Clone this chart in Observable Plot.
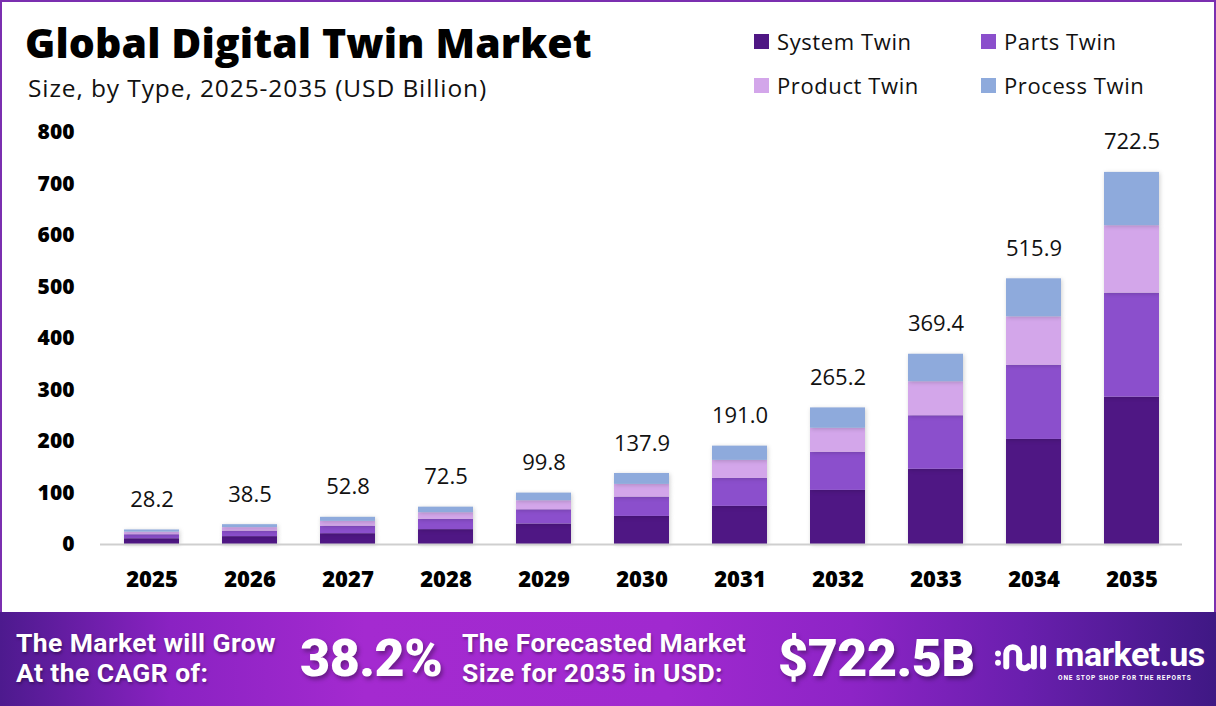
<!DOCTYPE html>
<html>
<head>
<meta charset="utf-8">
<script src="https://cdn.jsdelivr.net/npm/d3@7"></script>
<script src="https://cdn.jsdelivr.net/npm/@observablehq/plot@0.6"></script>
<style>
  html, body { margin: 0; padding: 0; background: #fff; }
  body { width: 1216px; height: 706px; overflow: hidden; font-family: "Open Sans", "Noto Sans", sans-serif; }
  #frame { position: relative; width: 1216px; height: 706px; box-sizing: border-box; border: 2px solid #7b2fb0; border-bottom: none; }
  #header { position: relative; height: 108px; }
  #title { position: absolute; left: 23px; top: 12px; font-family: "Open Sans", sans-serif; font-weight: 800; font-size: 41px; letter-spacing: 0.1px; color: #000; }
  #subtitle { position: absolute; left: 26px; top: 69px; font-family: "Open Sans", sans-serif; font-size: 24.5px; letter-spacing: 0.9px; color: #111; }
  .leg { position: absolute; display: flex; align-items: center; font-family: "Open Sans", sans-serif; font-size: 22px; letter-spacing: 0.6px; color: #111; }
  .leg span.sw { display: inline-block; width: 15px; height: 15px; margin-right: 8px; }
  #chart { position: relative; height: 502px; }
  #chart svg g[aria-label="bar"] rect { filter: drop-shadow(1px 1px 2px rgba(0,0,0,0.18)); }
  #footer { position: absolute; left: -2px; top: 610px; width: 1216px; height: 96px;
    background: linear-gradient(90deg, #4d1a8e 0%, #8a22c2 14%, #a42ad0 30%, #a029cf 55%, #8d24c6 70%, #6a1fae 84%, #3f1884 100%);
    color: #fff; font-family: "Roboto", sans-serif; font-weight: 700; }
  .ft { position: absolute; font-size: 26.5px; line-height: 30px; letter-spacing: 0.4px; text-shadow: 1px 2px 3px rgba(0,0,0,0.35); }
  .big { position: absolute; font-size: 52px; top: 16px; letter-spacing: -0.5px; text-shadow: 2px 3px 4px rgba(0,0,0,0.35); font-family: "Roboto", sans-serif; font-weight: 900; }
  #logo { position: absolute; left: 992px; top: 25px; }
  #logotext { position: absolute; left: 1055px; top: 24px; font-family: "Roboto", sans-serif; font-weight: 700; font-size: 34px; letter-spacing: -0.5px; line-height: 36px; }
  #tag { position: absolute; left: 1058px; top: 62px; font-family: "Roboto", sans-serif; font-weight: 700; font-size: 6.5px; letter-spacing: 0.9px; }
</style>
</head>
<body>
<div id="frame">
  <div id="header">
    <div id="title">Global Digital Twin Market</div>
    <div id="subtitle">Size, by Type, 2025-2035 (USD Billion)</div>
    <div id="legend"></div>
  </div>
  <div id="chart"></div>
  <div id="footer">
    <div class="ft" style="left:16px; top:16px;">The Market will Grow<br>At the CAGR of:</div>
    <div class="big" style="left:300px;">38.2%</div>
    <div class="ft" style="left:462px; top:16px;">The Forecasted Market<br>Size for 2035 in USD:</div>
    <div class="big" style="left:778px;">$722.5B</div>
    <svg id="logo" width="58" height="46" viewBox="0 0 60 50">
      <circle cx="5" cy="18" r="3.2" fill="#fff"/>
      <circle cx="5" cy="28" r="3.2" fill="#fff"/>
      <path d="M14 32 V18 a7 7 0 0 1 14 0 V30 a6 6 0 0 0 10 2" stroke="#fff" stroke-width="6.5" fill="none" stroke-linecap="round"/>
      <path d="M44 12 V32" stroke="#fff" stroke-width="6.5" stroke-linecap="round"/>
      <path d="M54 12 V32" stroke="#fff" stroke-width="6.5" stroke-linecap="round"/>
    </svg>
    <div id="logotext">market.us</div>
    <div id="tag">ONE STOP SHOP FOR THE REPORTS</div>
  </div>
</div>
<script>
// ---- data ----
const years = ["2025","2026","2027","2028","2029","2030","2031","2032","2033","2034","2035"];
const types = ["System Twin","Parts Twin","Product Twin","Process Twin"];
const colors = ["#4f1784","#8b4fcc","#d3a6ea","#8eaadc"];
const systemTwin  = [11.2, 15.3, 21.0, 28.9, 39.8, 54.5, 74.0, 105.0, 146.0, 204.0, 286.0];
const partsTwin   = [7.8, 10.7, 14.6, 20.1, 27.6, 37.5, 54.4, 74.0, 104.0, 144.0, 202.0];
const productTwin = [5.0, 6.8, 9.3, 12.7, 17.5, 24.7, 35.0, 46.7, 66.0, 94.0, 131.0];
const processTwin = [4.2, 5.7, 7.9, 10.8, 14.9, 21.2, 27.6, 39.5, 53.4, 73.9, 103.5];
const totals = [28.2, 38.5, 52.8, 72.5, 99.8, 137.9, 191.0, 265.2, 369.4, 515.9, 722.5];
const yTicks = [0,100,200,300,400,500,600,700,800];

// ---- legend ----
const legendPos = [[752,24],[979,24],[752,68],[979,68]];
const legend = document.getElementById("legend");
types.forEach((t,i) => {
  const d = document.createElement("div");
  d.className = "leg";
  d.style.left = legendPos[i][0] + "px";
  d.style.top = legendPos[i][1] + "px";
  d.innerHTML = `<span class="sw" style="background:${colors[i]}"></span>${t}`;
  legend.appendChild(d);
});

// ---- table ----
const series = [systemTwin, partsTwin, productTwin, processTwin];
const rows = [];
years.forEach((y,i) => types.forEach((t,k) => rows.push({year: y, type: t, value: series[k][i]})));
const totalRows = years.map((y,i) => ({year: y, total: totals[i]}));

const chart = Plot.plot({
  width: 1212,
  height: 502,
  marginTop: 22,
  marginBottom: 68,
  marginLeft: 98,
  marginRight: 32,
  style: {fontFamily: "'Open Sans', sans-serif", background: "transparent", color: "#000"},
  x: {domain: years, paddingInner: 0.44, paddingOuter: 0.22, label: null},
  y: {domain: [0, 800], label: null},
  color: {domain: types, range: colors},
  marks: [
    Plot.barY(rows, {x: "year", y: "value", fill: "type", order: types}),
    Plot.ruleY([0], {stroke: "#cfcfcf", strokeWidth: 2}),
    Plot.text(totalRows, {x: "year", y: "total", text: d => d.total.toFixed(1), dy: -30, fontSize: 22, fill: "#111", style: "letter-spacing:0.4px"}),
    Plot.axisY(yTicks, {tickSize: 0, tickPadding: 26, fontSize: 21, fontWeight: 800, label: null, style: "letter-spacing:1px"}),
    Plot.axisX({tickSize: 0, tickPadding: 27, fontSize: 22, fontWeight: 800, label: null, style: "letter-spacing:1px"})
  ]
});
document.getElementById("chart").appendChild(chart);
</script>
</body>
</html>
